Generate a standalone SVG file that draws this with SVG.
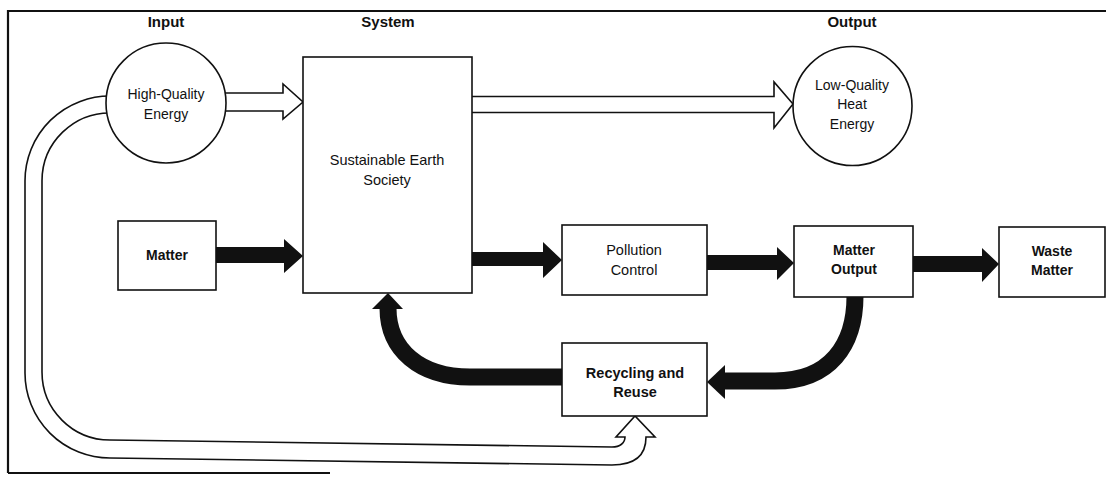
<svg xmlns="http://www.w3.org/2000/svg" width="1106" height="477" viewBox="0 0 1106 477">
<style>
.frame{stroke:#111;stroke-width:2.2;fill:none}
.box{fill:#fff;stroke:#111;stroke-width:1.6}
.hollow{fill:#fff;stroke:#111;stroke-width:1.6;stroke-linejoin:miter}
.loop{fill:none;stroke:#111;stroke-width:1.6}
.solid{fill:#111;stroke:none}
.thick{fill:none;stroke:#111;stroke-width:17}
.hd{font-family:"Liberation Sans",Arial,sans-serif;font-weight:bold;font-size:15px;fill:#111;text-anchor:middle}
.t{font-family:"Liberation Sans",Arial,sans-serif;font-size:14px;fill:#111;text-anchor:middle}
.tb{font-family:"Liberation Sans",Arial,sans-serif;font-size:14px;font-weight:bold;fill:#111;text-anchor:middle}
</style>
<rect width="1106" height="477" fill="#fff"/>
<g id="frame">
<path class="frame" d="M8 473 V11 H1106"/>
<path class="frame" d="M8 473 H330"/>
</g>
<g id="headers">
<text class="hd" x="166" y="27">Input</text>
<text class="hd" x="388" y="27">System</text>
<text class="hd" x="852" y="27">Output</text>
</g>
<g id="connectors">
<path class="hollow" d="M215 93 H283 V84 L303 102 L283 119 V111 H215"/>
<path class="hollow" d="M470 96.5 H774 V82 L793 104 L774 128 V112.5 H470"/>
<path class="loop" d="M112 96 A85 85 0 0 0 25 181 L25 373 A85 85 0 0 0 110 458 L612 465 C635 465 646 455 646 437 L655 437 L635 416 L616 437 L625 437 C625 443 620 447 612 447 L110 440 A68 68 0 0 1 42 372 L42 181 A68 68 0 0 1 112 113"/>
<polygon class="solid" points="214,247 284,247 284,239 303,256 284,273 284,263 214,263"/>
<polygon class="solid" points="470,252 543,252 543,242 562,260 543,278 543,266 470,266"/>
<polygon class="solid" points="705,255 777,255 777,247 794,263 777,280 777,270 705,270"/>
<polygon class="solid" points="911,256 982,256 982,248 999,264 982,282 982,272 911,272"/>
<path class="thick" d="M563 377 H470 C420 377 388 350 388 308"/>
<polygon class="solid" points="372,309 403,309 388,293"/>
<path class="thick" d="M855 296 C855 345 830 381 775 381 H724"/>
<polygon class="solid" points="725,365 725,399 707,382"/>
</g>
<g id="high-quality-energy">
<circle class="box" cx="166" cy="103" r="60"/>
<text class="t" x="166" y="99">High-Quality</text>
<text class="t" x="166" y="119">Energy</text>
</g>
<g id="sustainable-earth-society">
<rect class="box" x="303" y="57" width="169" height="236"/>
<text class="t" x="387" y="165" style="font-size:14.5px">Sustainable Earth</text>
<text class="t" x="387" y="185" style="font-size:14.5px">Society</text>
</g>
<g id="low-quality-heat-energy">
<circle class="box" cx="852.5" cy="106" r="59.5"/>
<text class="t" x="852" y="90">Low-Quality</text>
<text class="t" x="852" y="109">Heat</text>
<text class="t" x="852" y="129">Energy</text>
</g>
<g id="matter">
<rect class="box" x="118" y="221" width="98" height="69"/>
<text class="tb" x="167" y="260">Matter</text>
</g>
<g id="pollution-control">
<rect class="box" x="562" y="225" width="145" height="70"/>
<text class="t" x="634" y="255" style="font-size:14.5px">Pollution</text>
<text class="t" x="634" y="275" style="font-size:14.5px">Control</text>
</g>
<g id="matter-output">
<rect class="box" x="794" y="226" width="119" height="71"/>
<text class="tb" x="854" y="255">Matter</text>
<text class="tb" x="854" y="274">Output</text>
</g>
<g id="waste-matter">
<rect class="box" x="999" y="227" width="106" height="70"/>
<text class="tb" x="1052" y="256">Waste</text>
<text class="tb" x="1052" y="275">Matter</text>
</g>
<g id="recycling-and-reuse">
<rect class="box" x="562" y="343" width="145" height="73"/>
<text class="tb" x="635" y="378" style="font-size:14.5px">Recycling and</text>
<text class="tb" x="635" y="397" style="font-size:14.5px">Reuse</text>
</g>
</svg>
